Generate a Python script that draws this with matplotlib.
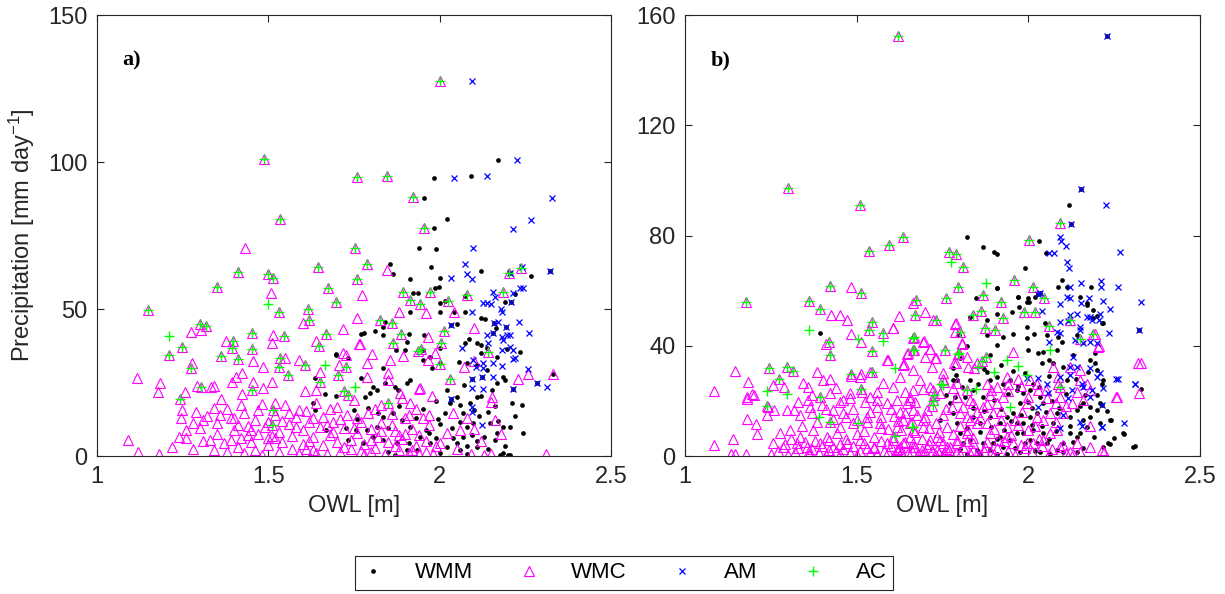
import numpy as np
import matplotlib
matplotlib.use("Agg")
import matplotlib.pyplot as plt
from matplotlib.lines import Line2D

plt.rcParams['font.family'] = ['Liberation Sans', 'DejaVu Sans']
plt.rcParams['mathtext.fontset'] = 'custom'
plt.rcParams['mathtext.rm'] = 'Liberation Sans'
plt.rcParams['mathtext.it'] = 'Liberation Sans:italic'

# ---- panel a) : (OWL [m], precipitation [mm/day]) per event class ----
wmc_a = [
    (2.000, 127.5), (1.487, 101.0), (1.759, 94.8), (1.845, 95.4), (1.921, 88.1), (1.535, 80.6),
    (1.955, 77.6), (1.431, 70.6), (1.753, 70.6), (1.788, 65.4), (1.645, 64.2), (1.845, 63.2),
    (2.203, 62.4), (2.238, 63.8), (1.411, 62.7), (1.498, 62.0), (1.513, 60.5), (1.759, 60.3),
    (1.350, 57.6), (1.507, 55.6), (1.674, 57.3), (1.773, 54.6), (1.698, 52.4), (1.893, 55.8),
    (1.972, 55.9), (2.081, 54.6), (2.186, 55.9), (2.023, 52.8), (1.913, 53.0), (1.943, 51.6),
    (2.042, 48.9), (1.961, 48.6), (1.880, 49.1), (1.148, 49.5), (1.532, 49.1), (1.616, 50.1),
    (1.759, 46.8), (1.717, 43.3), (1.826, 46.2), (1.861, 45.4), (1.602, 45.4), (1.618, 46.2),
    (1.300, 44.8), (1.318, 44.1), (1.303, 43.0), (1.275, 42.1), (1.452, 41.9), (1.513, 41.0),
    (1.545, 40.7), (1.668, 41.5), (1.886, 41.5), (1.966, 40.4), (2.100, 43.6), (2.012, 42.5),
    (2.005, 38.6), (1.247, 37.0), (1.210, 34.5), (1.396, 39.2), (1.393, 36.9), (1.377, 39.2),
    (1.452, 36.5), (1.454, 32.2), (1.410, 33.1), (1.361, 33.9), (1.510, 38.5), (1.640, 39.2),
    (1.648, 37.4), (1.717, 35.0), (1.767, 38.0), (1.863, 38.4), (1.945, 36.5), (2.142, 35.5),
    (1.277, 31.6), (1.275, 29.8), (1.118, 26.7), (1.183, 24.8), (1.179, 21.9), (1.242, 19.3),
    (1.256, 21.9), (1.291, 23.8), (1.302, 23.4), (1.332, 23.6), (1.340, 23.8), (1.361, 19.3),
    (1.395, 25.2), (1.407, 26.9), (1.423, 28.1), (1.423, 21.1), (1.452, 22.6), (1.456, 25.2),
    (1.483, 23.0), (1.485, 30.4), (1.511, 25.2), (1.531, 30.4), (1.534, 33.3), (1.548, 33.3),
    (1.557, 27.5), (1.588, 32.8), (1.608, 31.0), (1.606, 22.2), (1.640, 22.5), (1.652, 25.2),
    (1.650, 28.7), (1.705, 31.0), (1.703, 27.5), (1.726, 34.5), (1.727, 30.4), (1.721, 22.2),
    (1.764, 38.0), (1.787, 26.9), (1.802, 34.7), (1.788, 31.6), (1.850, 28.1), (1.850, 25.7),
    (1.854, 32.8), (1.894, 33.9), (1.938, 35.7), (1.943, 23.0), (1.967, 32.8), (1.987, 34.9),
    (2.000, 31.2), (2.030, 26.3), (2.071, 30.4), (2.100, 32.2), (2.229, 26.3), (2.259, 27.8),
    (2.331, 27.8), (2.154, 20.2), (1.978, 20.5), (1.939, 22.8), (1.914, 18.1), (1.885, 21.5),
    (1.248, 15.6), (1.245, 13.1), (1.514, 15.6), (1.511, 10.6), (1.850, 17.9), (1.733, 20.8),
    (1.09, 5.3), (1.12, 1.4), (1.18, 0.6), (1.22, 2.9), (1.24, 6.4), (1.26, 6.0), (1.28, 2.3),
    (1.28, 11.1), (1.30, 9.5), (1.31, 12.3), (1.32, 13.5), (1.33, 5.5), (1.34, 2.0), (1.35, 7.4),
    (1.35, 11.1), (1.37, 4.5), (1.38, 1.2), (1.39, 12.9), (1.40, 8.8), (1.41, 3.0), (1.42, 6.2),
    (1.43, 1.0), (1.44, 10.2), (1.45, 4.8), (1.46, 2.1), (1.47, 15.8), (1.47, 7.5), (1.48, 0.5),
    (1.49, 9.9), (1.50, 3.6), (1.50, 11.5), (1.51, 6.8), (1.52, 13.9), (1.53, 1.2), (1.53, 8.1),
    (1.54, 4.6), (1.55, 17.2), (1.56, 10.8), (1.57, 2.5), (1.57, 6.9), (1.58, 13.2), (1.59, 0.6),
    (1.60, 8.9), (1.60, 4.1), (1.61, 15.4), (1.62, 11.7), (1.63, 2.2), (1.63, 6.4), (1.64, 18.0),
    (1.65, 9.8), (1.66, 3.7), (1.66, 13.3), (1.67, 0.8), (1.68, 7.2), (1.69, 11.4), (1.70, 4.9),
    (1.70, 16.6), (1.71, 1.5), (1.72, 9.4), (1.73, 13.8), (1.74, 5.6), (1.74, 2.4), (1.75, 19.2),
    (1.76, 7.9), (1.77, 11.6), (1.78, 0.7), (1.78, 4.1), (1.79, 14.7), (1.80, 9.1), (1.81, 2.6),
    (1.82, 6.3), (1.83, 17.4), (1.83, 11.2), (1.84, 0.6), (1.85, 4.8), (1.86, 14.2), (1.87, 8.6),
    (1.88, 1.9), (1.89, 19.6), (1.89, 5.7), (1.90, 12.8), (1.91, 0.9), (1.92, 9.3), (1.93, 3.4),
    (1.93, 16.0), (1.94, 7.1), (1.95, 13.1), (1.96, 1.2), (1.96, 5.2), (1.97, 10.4), (1.98, 0.6),
    (1.99, 3.3), (2.02, 7.8), (2.04, 14.6), (2.05, 2.5), (2.08, 13.0), (2.09, 0.8), (2.10, 9.2),
    (2.13, 0.5), (2.15, 18.5), (2.15, 0.6), (2.16, 12.3), (2.18, 7.5), (2.31, 0.8),
    (1.36, 13.8), (1.41, 10.7), (1.43, 14.5), (1.44, 7.0), (1.39, 5.5), (1.46, 12.3), (1.52, 6.2),
    (1.56, 14.6), (1.58, 9.7), (1.62, 5.1), (1.64, 1.0), (1.67, 10.5), (1.69, 8.0), (1.72, 3.0),
    (1.76, 12.9), (1.80, 1.4), (1.81, 15.9), (1.86, 10.5), (1.88, 7.0), (1.91, 13.9), (1.94, 0.8),
    (1.26, 9.0), (1.29, 15.0), (1.31, 5.0), (1.34, 16.5), (1.38, 16.0), (1.40, 13.0), (1.42, 17.5),
    (1.45, 9.0), (1.48, 17.8), (1.50, 6.0), (1.52, 18.0), (1.54, 12.0), (1.59, 15.5), (1.61, 2.5),
    (1.63, 13.0), (1.68, 16.0), (1.71, 12.5), (1.75, 9.5), (1.77, 1.8), (1.80, 5.5), (1.83, 8.5),
    (1.87, 3.5), (1.90, 7.5), (1.92, 2.0), (1.97, 14.0), (2.00, 4.5), (2.06, 9.0), (2.12, 5.0),
]

wmm_a = [
    (2.169, 100.7), (1.982, 94.4), (2.090, 95.2), (1.955, 87.9), (2.022, 80.5), (1.984, 77.6),
    (1.941, 70.6), (1.988, 70.3), (1.854, 65.2), (1.863, 61.9), (1.975, 64.2), (2.120, 62.9),
    (2.205, 62.1), (2.267, 61.4), (2.322, 63.0), (1.912, 60.1), (2.000, 60.5), (1.921, 55.3),
    (1.936, 55.3), (1.985, 57.2), (1.998, 57.4), (2.074, 54.4), (2.001, 52.1), (2.015, 52.6),
    (2.001, 48.9), (2.208, 52.5), (2.219, 55.2), (2.190, 52.3), (2.042, 48.9), (1.912, 49.1),
    (2.032, 44.6), (2.051, 45.0), (2.120, 47.0), (2.133, 46.5), (2.159, 45.1), (2.165, 43.5),
    (1.955, 41.0), (1.780, 42.0), (1.810, 42.5), (1.835, 44.0), (1.840, 45.5), (2.075, 49.0),
    (2.193, 43.8), (2.155, 41.7), (2.123, 27.0), (2.094, 26.1), (2.215, 22.9), (2.283, 24.7),
    (2.032, 19.3), (1.834, 41.2), (1.770, 41.5), (1.911, 41.5), (1.905, 38.8), (2.001, 36.6),
    (2.074, 38.3), (2.086, 39.7), (2.108, 38.5), (2.121, 37.9), (2.137, 36.6), (2.120, 34.9),
    (2.166, 33.8), (2.195, 36.4), (2.234, 35.3),
    (1.972, 33.6), (1.977, 29.8), (2.001, 31.5), (2.055, 32.1), (2.079, 31.5), (2.108, 31.0),
    (2.137, 29.3), (2.186, 27.0), (2.191, 25.9), (2.167, 24.7), (2.152, 22.5), (2.108, 20.2),
    (2.089, 17.9), (2.050, 20.2), (2.059, 17.4), (2.030, 17.9), (2.016, 14.5), (2.069, 14.5),
    (2.079, 10.0), (2.098, 11.1), (2.069, 6.6), (2.050, 4.3), (2.059, 2.0), (2.021, 3.2),
    (1.972, 4.3), (1.943, 6.6), (1.914, 10.0), (1.889, 12.2), (1.865, 14.5), (1.836, 13.4),
    (1.816, 10.0), (1.806, 6.6), (1.787, 8.9), (1.777, 4.3), (1.836, 5.4), (1.875, 4.3),
    (1.904, 2.0), (1.933, 2.0), (2.001, 0.9), (2.108, 3.2), (2.128, 6.6), (2.167, 7.7),
    (2.147, 11.1), (2.186, 10.0), (2.205, 10.0), (2.210, 17.9), (2.239, 17.4), (2.242, 7.7),
    (2.186, 0.9), (2.205, 0.3), (2.176, 0.3), (2.162, 5.4), (1.697, 34.7), (1.731, 33.2),
    (1.770, 26.4), (1.836, 29.8), (1.872, 36.1), (1.899, 36.1), (1.952, 36.1), (1.950, 32.7),
    (1.914, 25.9), (1.904, 24.7), (1.879, 22.5), (1.870, 23.6), (1.839, 24.7), (1.806, 23.6),
    (1.816, 22.5), (1.797, 21.6), (1.782, 20.2), (1.637, 26.7), (1.629, 17.9), (1.637, 15.8),
    (1.666, 21.1), (1.669, 8.8), (1.698, 34.5), (1.698, 20.5), (1.727, 9.4), (1.733, 5.3),
    (1.756, 8.8), (1.750, 15.8), (2.331, 27.8), (1.960, 9.0), (2.035, 9.5), (2.080, 3.5),
    (1.995, 12.5), (2.095, 7.0), (2.140, 15.0), (1.850, 1.5), (1.990, 6.0), (2.115, 13.5),
    (1.91, 4.5), (1.93, 13.0), (1.95, 16.0), (1.97, 7.8), (1.99, 18.8), (2.00, 10.8), (2.02, 22.5),
    (2.04, 6.0), (2.06, 11.5), (2.07, 24.0), (2.08, 0.8), (2.10, 15.6), (2.11, 5.0), (2.12, 20.5),
    (2.14, 2.5), (2.16, 17.0), (2.17, 12.0), (2.19, 3.5), (2.20, 0.5), (2.22, 13.5), (1.85, 9.5),
    (1.88, 17.0), (1.87, 0.5), (1.82, 14.8), (1.79, 16.5), (1.76, 12.5),
]

am_a = [
    (2.093, 127.5), (2.227, 100.7), (2.043, 94.4), (2.137, 95.2), (2.329, 87.7), (2.267, 80.4),
    (2.215, 77.3), (2.098, 70.6), (2.074, 65.2), (2.079, 61.8), (2.093, 60.3), (2.205, 62.1),
    (2.240, 64.4), (2.322, 63.0), (2.033, 60.4), (2.235, 57.0), (2.242, 57.3), (2.155, 55.9),
    (2.161, 54.2), (2.126, 51.9), (2.137, 52.2), (2.149, 51.7), (2.178, 49.9), (2.181, 49.1),
    (2.094, 49.1), (2.208, 52.5), (2.213, 55.6), (2.230, 45.7), (2.262, 41.7), (2.159, 45.1),
    (2.193, 43.8), (2.169, 45.7), (2.032, 44.6), (2.155, 41.7), (2.137, 41.2), (2.142, 38.3),
    (2.181, 40.6), (2.186, 39.5), (2.196, 41.2), (2.205, 41.2), (2.181, 36.1), (2.205, 37.2),
    (2.215, 36.1), (2.220, 33.2), (2.213, 32.9), (2.064, 36.9), (2.098, 32.7), (2.105, 30.4),
    (2.126, 31.5), (2.126, 29.8), (2.157, 31.5), (2.181, 30.6), (2.123, 27.0), (2.094, 26.1),
    (2.126, 22.7), (2.094, 23.0), (2.157, 27.0), (2.215, 22.9), (2.259, 29.5), (2.283, 24.7),
    (2.312, 23.6), (2.032, 19.3), (2.094, 16.8), (2.094, 15.1), (2.123, 10.5),
]

ac_a = [
    (2.000, 127.5), (1.487, 101.0), (1.759, 94.8), (1.845, 95.4), (1.921, 88.1), (1.535, 80.6),
    (1.955, 77.6), (1.753, 70.6), (1.788, 65.4), (1.645, 64.2), (2.203, 62.4), (2.238, 63.8),
    (1.411, 62.7), (1.498, 62.0), (1.513, 60.5), (1.759, 60.3), (1.350, 57.6), (1.674, 57.3),
    (1.698, 52.4), (1.893, 55.8), (1.972, 55.9), (2.081, 54.6), (2.186, 55.9), (2.023, 52.8),
    (1.913, 53.0), (1.943, 51.6), (1.148, 49.5), (1.500, 51.6), (1.532, 49.1), (1.616, 50.1),
    (1.826, 46.2), (1.861, 45.4), (1.618, 46.2), (1.300, 44.8), (1.318, 44.1), (1.210, 40.7),
    (1.452, 41.9), (1.545, 40.7), (1.668, 41.5), (1.886, 41.5), (2.012, 42.5), (2.005, 38.6),
    (1.247, 37.0), (1.210, 34.5), (1.396, 39.2), (1.393, 36.9), (1.452, 36.5), (1.410, 33.1),
    (1.361, 33.9), (1.648, 37.4), (1.863, 38.4), (1.945, 36.5), (2.142, 35.5), (1.275, 29.8),
    (1.242, 19.3), (1.302, 23.4), (1.452, 22.6), (1.531, 30.4), (1.534, 33.3), (1.557, 27.5),
    (1.608, 31.0), (1.652, 25.2), (1.666, 31.0), (1.703, 27.5), (1.727, 30.4), (1.721, 22.2),
    (1.752, 23.6), (2.000, 31.2), (2.030, 26.3), (1.938, 35.7), (1.514, 15.6), (1.511, 10.6),
    (1.850, 17.9), (1.733, 20.8),
]

# ---- panel b) ----
wmc_b = [
    (1.619, 152.5), (1.300, 97.2), (1.511, 90.9), (2.091, 84.5), (1.636, 79.3), (2.001, 78.3),
    (1.595, 76.5), (1.537, 74.3), (1.770, 74.0), (1.788, 73.4), (1.810, 68.6), (1.957, 63.7),
    (1.796, 61.5), (2.014, 61.2), (1.484, 61.4), (1.422, 61.8), (1.514, 59.3), (1.178, 55.8),
    (1.360, 56.2), (1.673, 56.5), (1.760, 57.4), (1.867, 58.3), (1.920, 55.9), (2.047, 57.2),
    (1.394, 53.5), (1.425, 51.2), (1.452, 51.2), (1.473, 49.3), (1.624, 50.8), (1.698, 52.4),
    (1.669, 51.2), (1.732, 49.3), (1.789, 48.3), (1.839, 51.2), (1.861, 52.7), (1.988, 52.4),
    (2.018, 52.4), (1.419, 41.2), (1.422, 36.8), (1.411, 40.6), (1.544, 48.7), (1.537, 45.8),
    (1.484, 44.3), (1.514, 41.2), (1.577, 44.6), (1.607, 46.6), (1.546, 38.1), (1.667, 43.1),
    (1.696, 41.8), (1.715, 38.7), (1.732, 35.6), (1.650, 37.5), (1.802, 44.9), (1.807, 40.6),
    (1.786, 48.0), (1.873, 46.6), (1.668, 38.3), (1.758, 38.3), (1.590, 34.9), (1.638, 33.4),
    (1.797, 37.2), (2.193, 44.3), (2.207, 39.9), (2.151, 42.4), (2.329, 33.7), (2.323, 22.7),
    (2.255, 21.5), (1.245, 31.8), (1.297, 32.2), (1.314, 30.8), (1.273, 28.1), (1.146, 30.8),
    (1.182, 26.8), (1.194, 22.5), (1.180, 20.6), (1.084, 23.7), (1.083, 4.1), (1.140, 6.0),
    (1.180, 13.4), (1.211, 8.1), (1.207, 11.5), (1.133, 0.9), (1.146, 0.9), (1.178, 0.9),
    (1.239, 18.1), (1.512, 24.3), (1.484, 29.9), (1.512, 29.9), (1.546, 30.6), (1.725, 22.1),
    (1.755, 27.0), (1.927, 49.9), (2.121, 49.3), (2.061, 47.1), (2.187, 44.2), (1.956, 37.8),
    (1.877, 36.0), (1.903, 45.9), (1.796, 37.0), (1.820, 35.8), (1.789, 33.6), (1.825, 32.4),
    (1.752, 27.8), (1.714, 24.9), (1.694, 24.2), (1.655, 21.3), (1.646, 19.1), (1.626, 16.1),
    (1.675, 14.9), (1.636, 13.0), (1.655, 11.8), (1.694, 10.6), (1.616, 10.6), (1.607, 46.3),
    (1.665, 42.7), (1.694, 41.5), (1.714, 38.7), (1.728, 35.4), (1.699, 36.0), (1.665, 38.4),
    (1.646, 37.0), (1.634, 33.0), (1.864, 34.6), (1.842, 32.1), (1.851, 33.6),
    (1.937, 28.8), (1.942, 26.3), (1.908, 25.1), (1.888, 22.1), (1.879, 26.3), (1.971, 27.8),
    (2.000, 21.5), (2.005, 27.5), (2.029, 23.9), (2.024, 26.3), (2.053, 20.9), (2.063, 15.5),
    (2.082, 19.1), (2.092, 21.5), (2.087, 26.3), (2.087, 28.8), (2.073, 32.4), (2.121, 32.4),
    (2.150, 31.2), (2.150, 27.5), (2.170, 26.3), (2.180, 23.9), (2.204, 39.6), (2.257, 21.5),
    (2.320, 33.6), (2.141, 23.3), (2.126, 19.1), (2.102, 15.5), (2.063, 8.2), (2.044, 5.8),
    (2.015, 4.6), (1.995, 4.6), (1.937, 10.6), (1.937, 7.0), (1.956, 4.6), (1.913, 5.8),
    (1.888, 8.2), (1.874, 3.4), (1.840, 4.6), (1.825, 9.4), (1.791, 5.8), (1.772, 3.4),
    (1.757, 0.9), (1.733, 2.2), (1.714, 5.8), (1.689, 2.2), (1.665, 3.4), (1.655, 7.0),
    (1.636, 4.6), (1.616, 2.2), (1.607, 5.8), (1.733, 7.0), (1.762, 10.6), (1.820, 14.2),
    (1.849, 11.8), (1.879, 11.8), (1.898, 15.5), (1.908, 19.1), (1.927, 21.5), (1.840, 19.1),
    (1.820, 23.9), (1.791, 21.5), (1.777, 17.9), (1.869, 17.9), (1.995, 19.1), (1.981, 16.1),
    (2.024, 14.2), (2.044, 13.0), (2.083, 9.4), (2.092, 3.4), (2.121, 1.6), (2.150, 1.6),
    (2.214, 2.2), (2.180, 3.4), (2.141, 4.6), (2.092, 25.1),
    (1.180, 21.5), (1.201, 22.1), (1.255, 25.8), (1.288, 24.9), (1.243, 17.9), (1.240, 14.9),
    (1.259, 16.7), (1.296, 16.7), (1.316, 16.7), (1.335, 14.9), (1.359, 20.3), (1.364, 17.7),
    (1.393, 21.5), (1.422, 22.7), (1.403, 27.6), (1.384, 30.6), (1.422, 27.8), (1.359, 24.9),
    (1.345, 26.4), (1.369, 15.5), (1.384, 12.5), (1.422, 12.5), (1.451, 10.6), (1.432, 16.7),
    (1.461, 20.3), (1.481, 22.7), (1.515, 23.3), (1.510, 28.8), (1.483, 29.0), (1.539, 30.6),
    (1.587, 34.8), (1.636, 33.0), (1.665, 31.2), (1.685, 27.6), (1.626, 28.8), (1.607, 25.2),
    (1.578, 26.4), (1.558, 23.3), (1.539, 21.5), (1.524, 19.7), (1.558, 17.9), (1.587, 19.1),
    (1.617, 20.3), (1.655, 20.3), (1.665, 16.7), (1.704, 16.7), (1.723, 20.3), (1.743, 22.7),
    (1.723, 24.0), (1.665, 24.0), (1.641, 23.3), (1.694, 13.1), (1.665, 9.4), (1.607, 7.0),
    (1.568, 11.9), (1.529, 14.3), (1.490, 11.9), (1.461, 15.5), (1.442, 8.2), (1.413, 7.0),
    (1.374, 9.4), (1.335, 7.0), (1.306, 9.4), (1.277, 8.2), (1.257, 4.6), (1.286, 3.4),
    (1.325, 4.6), (1.354, 3.4), (1.393, 4.6), (1.432, 3.4), (1.471, 4.6), (1.510, 5.8),
    (1.549, 3.4), (1.587, 4.6), (1.626, 3.4), (1.665, 4.6), (1.704, 3.4), (1.743, 5.8),
    (1.762, 3.4), (1.791, 4.6), (1.820, 8.2), (1.830, 13.1), (1.811, 17.9), (1.791, 21.5),
    (1.791, 26.4), (1.752, 30.0), (1.718, 32.4), (1.782, 33.6), (1.806, 40.9), (1.787, 45.1),
    (1.723, 49.3), (1.665, 55.4),
    (1.25, 0.6), (1.30, 0.5), (1.36, 0.7), (1.41, 0.5), (1.45, 0.8), (1.50, 0.5), (1.56, 0.6),
    (1.61, 0.5), (1.68, 0.7), (1.73, 0.5), (1.80, 0.6), (1.86, 0.5), (1.90, 0.8), (1.96, 0.5),
    (2.06, 0.6), (2.11, 1.2), (2.13, 0.8), (2.22, 1.5),
    (1.31, 6.0), (1.34, 11.0), (1.38, 5.5), (1.40, 18.5), (1.43, 13.5), (1.45, 19.5), (1.47, 6.3),
    (1.49, 17.0), (1.50, 13.2), (1.52, 9.0), (1.54, 16.1), (1.55, 6.8), (1.57, 14.2), (1.58, 2.0),
    (1.59, 9.8), (1.60, 17.0), (1.62, 12.8), (1.63, 1.5), (1.64, 15.6), (1.66, 12.3), (1.67, 8.7),
    (1.69, 6.3), (1.71, 10.1), (1.72, 18.2), (1.74, 8.7), (1.75, 14.8), (1.78, 7.9), (1.80, 11.0),
    (1.84, 6.7), (1.86, 13.9), (1.87, 1.8), (1.90, 9.9), (1.92, 13.2), (1.95, 7.6), (1.97, 11.3),
    (1.99, 2.9), (2.00, 9.3), (2.03, 6.1), (1.36, 1.8), (1.42, 2.2), (1.48, 1.2), (1.53, 2.8),
    (1.65, 1.0), (1.70, 1.3), (1.76, 2.5), (1.83, 1.2),
    (1.27, 2.0), (1.29, 4.2), (1.32, 1.5), (1.33, 3.0), (1.35, 5.2), (1.37, 2.6), (1.39, 1.0),
    (1.40, 3.8), (1.42, 5.9), (1.44, 1.7), (1.45, 4.4), (1.46, 2.7), (1.49, 3.5), (1.51, 1.9),
    (1.52, 4.8), (1.54, 1.1), (1.55, 2.9), (1.57, 5.3), (1.59, 1.4), (1.60, 3.6), (1.62, 2.4),
    (1.64, 5.0), (1.66, 1.8), (1.67, 3.1), (1.69, 0.9), (1.71, 4.3), (1.72, 2.0), (1.74, 1.2),
    (1.75, 4.9), (1.77, 2.1), (1.79, 1.0), (1.81, 3.2), (1.82, 5.5), (1.84, 2.3), (1.85, 0.8),
    (1.88, 5.2), (1.89, 1.0), (1.91, 3.0), (1.93, 5.6), (1.94, 1.9), (1.98, 4.0), (2.01, 1.5),
    (2.04, 3.5), (2.07, 2.4), (2.10, 4.0),
    (1.33, 19.5), (1.37, 22.0), (1.41, 17.0), (1.44, 24.5), (1.47, 14.0), (1.48, 21.0), (1.50, 8.0),
    (1.53, 12.5), (1.56, 20.5), (1.57, 10.0), (1.61, 14.6), (1.63, 9.6), (1.67, 19.6), (1.70, 14.0),
    (1.73, 12.0), (1.76, 17.0), (1.78, 24.5), (1.80, 15.5), (1.83, 20.5), (1.85, 16.0), (1.88, 19.0),
    (1.89, 24.0), (1.92, 16.5), (1.94, 23.5), (1.96, 13.0), (1.98, 25.5), (2.02, 11.0), (2.05, 24.0),
    (2.08, 12.5), (2.11, 18.0), (2.16, 20.5), (2.18, 11.0),
]

wmm_b = [
    (2.230, 152.4), (2.154, 96.8), (2.117, 90.9), (2.124, 84.1), (1.820, 79.3), (2.032, 78.0),
    (1.867, 76.0), (1.901, 74.0), (1.909, 73.3), (2.052, 73.6), (1.990, 68.3), (1.910, 60.9),
    (2.098, 64.0), (2.087, 61.2), (2.113, 61.2), (1.971, 57.8), (2.001, 55.8), (2.033, 59.3),
    (1.392, 44.6), (2.329, 24.3), (2.312, 3.5), (2.280, 7.9), (2.241, 13.1), (2.238, 4.4),
    (2.322, 45.9), (2.183, 61.4), (2.150, 57.8), (2.170, 55.4), (2.172, 54.8), (2.189, 49.9),
    (2.214, 48.4), (2.199, 50.8), (1.908, 60.8), (1.848, 57.4), (1.969, 57.8), (2.000, 57.2),
    (2.019, 57.8), (1.995, 56.0), (1.951, 52.3), (1.908, 51.7), (1.879, 49.3), (1.879, 43.9),
    (1.995, 46.9), (2.016, 44.2), (1.997, 42.7), (2.029, 37.2), (2.044, 37.8), (2.000, 38.4),
    (2.073, 33.6), (2.039, 33.6), (2.087, 43.3), (2.097, 41.5), (2.049, 48.1), (2.053, 43.9),
    (2.083, 38.4), (1.888, 36.6), (1.908, 40.2), (1.927, 43.3), (1.956, 44.2), (1.973, 54.2),
    (1.830, 50.5), (2.214, 18.5), (2.029, 58.8),
    (1.791, 27.6), (1.806, 25.1), (1.815, 21.5), (1.830, 27.6), (1.840, 23.9), (1.854, 26.3),
    (1.869, 21.5), (1.888, 27.6), (1.908, 28.8), (1.927, 26.3), (1.947, 27.6), (1.966, 23.9),
    (1.976, 19.1), (1.985, 22.7), (2.005, 23.9), (2.015, 26.3), (2.034, 21.5), (2.044, 19.1),
    (2.024, 15.5), (2.005, 14.2), (1.985, 11.8), (1.966, 8.2), (1.947, 5.8), (1.927, 3.4),
    (1.908, 0.9), (1.888, 2.2), (1.869, 4.6), (1.849, 2.2), (1.830, 5.8), (1.811, 4.6),
    (1.801, 8.2), (1.791, 11.8), (1.781, 15.5), (1.772, 19.1), (1.786, 21.5), (1.743, 13.0),
    (1.840, 14.2), (1.859, 11.8), (1.888, 14.2), (1.917, 11.8), (1.937, 14.2), (1.956, 15.5),
    (1.985, 8.2), (2.005, 5.8), (2.024, 4.6), (2.044, 8.2), (2.053, 4.6), (2.063, 0.9),
    (2.083, 2.2), (2.102, 4.6), (2.121, 8.2), (2.141, 7.0), (2.160, 13.0), (2.180, 14.2),
    (2.199, 16.7), (2.209, 19.1), (2.180, 17.9), (2.160, 19.1), (2.141, 16.7), (2.121, 14.2),
    (2.083, 15.5), (2.073, 11.8), (2.015, 9.4), (1.966, 11.8), (1.917, 7.0), (1.898, 4.6),
    (1.859, 0.9), (1.820, 0.9), (1.937, 0.9), (1.976, 1.6), (2.034, 1.6), (2.141, 1.6),
    (2.218, 3.4), (2.233, 4.6), (2.277, 8.2), (2.306, 3.4), (2.238, 13.0), (2.150, 8.2),
    (2.102, 32.4), (2.112, 27.6), (2.180, 34.8), (2.194, 37.2), (2.194, 33.6), (2.199, 31.2),
    (2.214, 26.3), (2.218, 27.6), (2.175, 30.6), (2.189, 53.0), (2.218, 48.1), (2.141, 43.9),
    (1.781, 27.6), (1.798, 44.0), (1.820, 40.0), (1.780, 32.0), (1.760, 22.0), (1.800, 35.5),
    (1.955, 31.0), (2.060, 29.0), (2.130, 36.5), (1.870, 31.5), (2.010, 17.5), (2.165, 22.0),
    (1.86, 8.8), (1.87, 16.5), (1.89, 10.5), (1.90, 20.5), (1.91, 6.2), (1.92, 17.0), (1.93, 9.5),
    (1.94, 22.5), (1.95, 12.8), (1.96, 2.8), (1.97, 25.5), (1.98, 14.8), (1.99, 4.9), (2.00, 19.5),
    (2.01, 11.3), (2.02, 2.0), (2.03, 25.0), (2.04, 11.0), (2.05, 15.8), (2.06, 6.0), (2.07, 20.0),
    (2.08, 9.0), (2.09, 17.5), (2.10, 1.5), (2.11, 22.5), (2.12, 11.0), (2.13, 5.0), (2.14, 28.0),
    (2.15, 18.0), (2.16, 3.0), (2.17, 10.5), (2.19, 7.0), (2.20, 22.0), (2.21, 12.0), (2.23, 16.5),
    (2.25, 6.5), (1.88, 30.5), (1.92, 33.0), (1.99, 30.0), (2.06, 35.0), (1.84, 17.5), (1.82, 10.0),
    (1.80, 2.5), (1.79, 29.5),
]

am_b = [
    (2.230, 152.4), (2.154, 96.8), (2.227, 90.9), (2.124, 84.1), (2.092, 79.3), (2.095, 78.0),
    (2.111, 76.1), (2.061, 73.6), (2.074, 73.6), (2.267, 74.0), (2.114, 70.5), (2.117, 68.3),
    (2.329, 55.8), (2.322, 45.9), (2.312, 26.0), (2.280, 12.1), (2.260, 27.8), (2.215, 10.6),
    (2.033, 59.3), (2.121, 61.4), (2.152, 62.6), (2.211, 63.5), (2.211, 61.2), (2.260, 61.2),
    (2.112, 57.8), (2.121, 57.2), (2.152, 55.6), (2.178, 57.2), (2.218, 56.3), (2.238, 53.2),
    (2.039, 52.6), (2.092, 48.7), (2.116, 49.1), (2.143, 51.7), (2.170, 50.3), (2.180, 50.5),
    (2.184, 49.3), (2.209, 51.7), (2.207, 49.3), (2.236, 44.5), (2.150, 46.9), (2.150, 45.7),
    (2.083, 45.1), (2.092, 44.5), (2.061, 41.5), (2.136, 42.1), (2.160, 41.1), (2.180, 41.5),
    (2.199, 40.9), (2.129, 36.0), (2.141, 32.4), (2.121, 32.4), (2.180, 31.8), (2.209, 30.2),
    (2.199, 28.8), (2.121, 29.4), (2.155, 26.3), (2.184, 23.9), (2.180, 21.5), (2.218, 24.5),
    (2.214, 18.5), (2.126, 23.9), (2.116, 20.9), (2.053, 26.3), (2.092, 28.8), (2.058, 22.7),
    (2.160, 25.1), (2.256, 27.8), (2.311, 26.0), (2.214, 10.6), (2.155, 10.9), (2.150, 12.4),
    (2.102, 14.9), (2.092, 10.0), (2.029, 17.9), (1.995, 28.2), (2.029, 28.2), (2.121, 51.1),
    (2.092, 55.1), (2.029, 58.8),
]

ac_b = [
    (1.619, 152.5), (1.300, 97.2), (1.511, 90.9), (2.091, 84.5), (1.636, 79.3), (2.001, 78.3),
    (1.595, 76.5), (1.537, 74.3), (1.770, 74.0), (1.788, 73.4), (1.775, 70.3), (1.810, 68.6),
    (1.957, 63.7), (1.878, 62.7), (1.796, 61.5), (2.014, 61.2), (1.422, 61.8), (1.514, 59.3),
    (1.178, 55.8), (1.360, 56.2), (1.673, 56.5), (1.760, 57.4), (1.867, 58.3), (1.920, 55.9),
    (2.047, 57.2), (1.394, 53.5), (1.669, 51.2), (1.732, 49.3), (1.839, 51.2), (1.861, 52.7),
    (1.988, 52.4), (2.018, 52.4), (1.927, 49.9), (2.121, 49.3), (2.061, 47.1), (2.187, 44.2),
    (1.419, 41.2), (1.422, 36.8), (1.360, 45.8), (1.544, 48.7), (1.537, 45.8), (1.503, 42.4),
    (1.577, 41.8), (1.577, 44.6), (1.546, 38.1), (1.667, 43.1), (1.802, 44.9), (1.873, 46.6),
    (1.668, 38.3), (1.758, 38.3), (1.797, 37.2), (1.877, 36.0), (1.903, 45.9), (1.796, 37.0),
    (1.864, 34.6), (2.151, 42.4), (1.245, 31.8), (1.239, 23.7), (1.298, 22.5), (1.297, 32.2),
    (1.314, 30.8), (1.273, 28.1), (1.239, 18.1), (1.393, 21.5), (1.391, 14.3), (1.422, 12.5),
    (1.512, 24.3), (1.484, 29.9), (1.546, 30.6), (1.725, 22.1), (1.721, 19.9), (1.721, 18.6),
    (1.663, 10.6), (1.613, 7.1), (1.503, 12.0), (1.752, 25.8), (1.665, 38.4), (1.665, 42.7),
    (2.063, 38.4), (2.092, 25.1), (1.947, 17.9), (1.937, 34.8), (1.971, 32.6), (1.854, 32.4),
    (1.820, 23.9), (1.848, 24.2), (1.747, 26.3), (1.660, 10.6), (1.612, 31.8), (1.995, 29.5),
    (1.900, 30.5),
]

x_ticks = [1, 1.5, 2, 2.5]
y_ticks_a = [0, 50, 100, 150]
y_ticks_b = [0, 40, 80, 120, 160]

# marker styles per event class (MATLAB-like colours)
styles = {
    "WMM": dict(marker="o", color="black", markersize=3.4, markeredgewidth=0),
    "WMC": dict(marker="^", color="#FF00FF", markersize=7.5, markerfacecolor="none", markeredgewidth=0.8),
    "AM": dict(marker="x", color="#0000FF", markersize=4.5, markeredgewidth=0.9),
    "AC": dict(marker="+", color="#00FF00", markersize=6.5, markeredgewidth=1.0),
}
AXIS_COLOR = "#262626"


def draw_panel(ax, wmm, wmc, am, ac, y_ticks, label):
    for name, pts in (("WMM", wmm), ("WMC", wmc), ("AM", am), ("AC", ac)):
        xy = np.array(pts)
        ax.plot(xy[:, 0], xy[:, 1], linestyle="none", **styles[name])
    ax.set_xlim(1, 2.5)
    ax.set_ylim(0, y_ticks[-1])
    ax.set_xticks(x_ticks)
    ax.set_xticklabels(["1", "1.5", "2", "2.5"])
    ax.set_yticks(y_ticks)
    ax.tick_params(direction="in", top=True, right=True, length=5, width=0.8,
                   labelsize=17, colors=AXIS_COLOR, pad=7)
    for sp in ax.spines.values():
        sp.set_color(AXIS_COLOR)
        sp.set_linewidth(0.8)
    ax.set_xlabel("OWL [m]", fontsize=17, color=AXIS_COLOR, labelpad=5)
    ax.text(0.05, 0.898, label, transform=ax.transAxes, fontsize=16, fontweight="bold",
            family="Liberation Serif", va="center", ha="left")


fig = plt.figure(figsize=(12.25, 5.94), dpi=100)
ax_a = fig.add_axes([0.0792, 0.2323, 0.4196, 0.7424])
ax_b = fig.add_axes([0.5592, 0.2323, 0.4204, 0.7424])

draw_panel(ax_a, wmm_a, wmc_a, am_a, ac_a, y_ticks_a, "a)")
draw_panel(ax_b, wmm_b, wmc_b, am_b, ac_b, y_ticks_b, "b)")
ax_a.set_ylabel("Precipitation [mm day$^{\\mathregular{-1}}$]", fontsize=17,
                color=AXIS_COLOR, labelpad=8)

handles = [Line2D([], [], linestyle="none", **styles[k]) for k in styles]
leg = fig.legend(handles, list(styles.keys()), loc="center", bbox_to_anchor=(0.5095, 0.0354),
                 ncol=4, fontsize=16, frameon=True, fancybox=False, framealpha=1,
                 edgecolor=AXIS_COLOR, handlelength=1.0, handletextpad=1.4,
                 columnspacing=2.0, borderpad=0.3)
leg.get_frame().set_linewidth(0.8)

fig.savefig("out.png", dpi=100)
